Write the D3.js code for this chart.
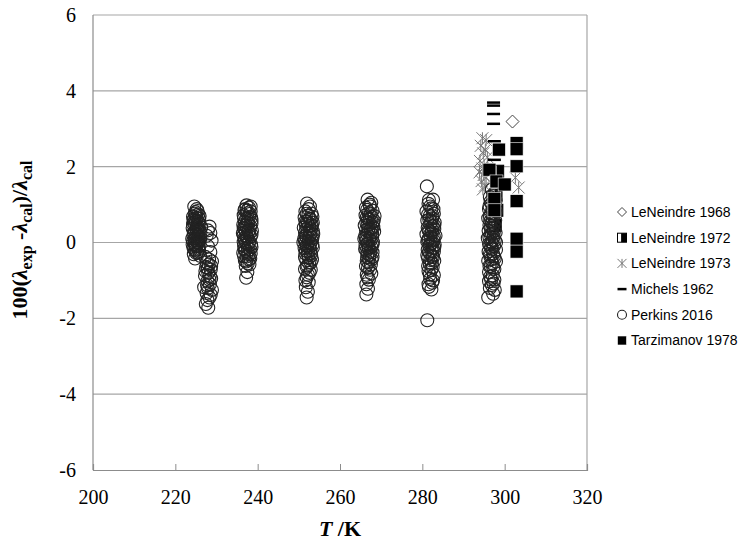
<!DOCTYPE html>
<html>
<head>
<meta charset="utf-8">
<script src="https://cdn.jsdelivr.net/npm/d3@7"></script>
<style>
body { margin: 0; background: #fff; }
.tick-label { font-family: "Liberation Serif", "Times New Roman", serif; font-size: 20px; fill: #000; }
.axis-title { font-family: "Liberation Serif", "Times New Roman", serif; font-weight: bold; fill: #000; }
.legend text { font-family: "Liberation Sans", Arial, sans-serif; font-size: 14px; fill: #000; }
</style>
</head>
<body>
<svg id="chart" width="749" height="547"></svg>
<script>
var xTicks = [200, 220, 240, 260, 280, 300, 320];
var yTicks = [-6, -4, -2, 0, 2, 4, 6];

// [T, deviation]
var leneindre1968 = [[301.9, 3.19]];

var leneindre1972 = [[298.3, 1.88], [297.9, 1.25], [298.1, 0.85], [297.7, 0.45]];

var leneindre1973 = [
    [294.6, 2.75], [295.5, 2.70], [294.2, 2.55], [295.3, 2.45], [294.8, 2.35], [295.8, 2.25],
    [294.0, 2.15], [295.0, 2.05], [294.6, 1.95], [295.6, 1.90], [293.9, 1.85], [294.9, 1.78],
    [295.5, 1.70], [294.4, 1.62], [295.2, 1.50], [294.7, 1.40], [302.6, 1.71], [303.4, 1.45]
];

var michels1962 = [
    [297.3, 3.69], [297.3, 3.61], [297.3, 3.39], [297.3, 3.13], [297.5, 2.67],
    [297.5, 2.18], [297.2, 1.31], [297.2, 1.05], [297.2, 0.79]
];

var perkins225 = [
    [224.6, 0.95], [225.2, 0.88], [224.9, 0.80], [225.6, 0.74], [224.3, 0.68], [225.8, 0.62],
    [225.0, 0.57], [224.5, 0.52], [225.9, 0.47], [225.3, 0.43], [224.2, 0.38], [225.7, 0.34],
    [224.8, 0.30], [226.1, 0.26], [225.1, 0.22], [224.4, 0.18], [225.6, 0.15], [224.9, 0.11],
    [226.0, 0.07], [224.3, 0.04], [225.4, 0.01], [224.7, -0.03], [225.9, -0.06], [225.0, -0.10],
    [224.4, -0.14], [225.7, -0.17], [224.9, -0.21], [225.3, -0.26], [224.5, -0.31], [226.0, -0.35],
    [224.8, -0.42], [225.2, 0.65], [224.6, 0.24], [225.5, -0.01], [226.3, 0.40], [224.1, 0.10],
    [225.4, 0.83], [224.7, 0.76], [225.9, 0.70], [224.4, 0.60], [225.5, 0.55], [224.8, 0.48],
    [225.2, 0.36], [225.9, 0.30], [224.5, 0.27], [225.4, 0.19], [226.0, 0.13], [224.7, 0.08],
    [225.2, 0.05], [224.2, -0.05], [225.6, -0.10], [224.6, -0.18], [225.1, -0.28], [225.8, -0.24],
    [224.3, 0.48], [225.0, 0.72], [224.6, 0.62], [225.7, 0.52], [225.3, 0.31], [224.9, -0.07], [225.5, 0.09]
];

var perkins228 = [
    [228.3, 0.42], [227.6, 0.18], [228.8, 0.05], [227.9, -0.10], [228.5, -0.25], [227.3, -0.38],
    [228.9, -0.50], [228.1, -0.58], [227.5, -0.65], [228.6, -0.72], [228.0, -0.80], [227.2, -0.88],
    [228.7, -0.95], [227.8, -1.02], [228.4, -1.10], [227.0, -1.18], [228.9, -1.25], [227.6, -1.33],
    [228.3, -1.45], [227.4, -1.62], [228.0, -1.72], [227.9, -0.68], [228.4, -0.88], [227.7, -1.12],
    [228.2, -0.45], [227.6, -0.52], [228.7, -0.62], [227.3, -0.75], [228.3, -0.98], [227.9, -1.20],
    [228.6, -1.38], [227.8, -1.52], [228.5, 0.25], [227.9, 0.32]
];

var perkins237 = [
    [237.3, 0.98], [237.9, 0.92], [236.8, 0.86], [238.3, 0.82], [237.5, 0.77], [236.6, 0.72],
    [238.0, 0.68], [237.2, 0.63], [238.5, 0.59], [236.9, 0.55], [237.7, 0.51], [236.5, 0.47],
    [238.2, 0.43], [237.4, 0.39], [236.8, 0.35], [238.6, 0.31], [237.1, 0.27], [237.9, 0.23],
    [236.6, 0.19], [238.3, 0.15], [237.5, 0.11], [236.9, 0.07], [238.0, 0.03], [237.2, -0.01],
    [238.4, -0.05], [236.7, -0.09], [237.6, -0.13], [238.1, -0.18], [237.0, -0.22], [236.5, -0.27],
    [237.8, -0.31], [237.3, -0.37], [238.2, -0.42], [236.9, -0.48], [237.6, -0.55], [237.1, -0.62],
    [237.5, -0.78], [237.2, -0.93], [238.4, 0.66], [236.4, 0.25],
    [237.0, 0.88], [238.1, 0.75], [236.7, 0.64], [237.6, 0.58], [238.5, 0.50], [237.0, 0.44],
    [236.6, 0.38], [237.9, 0.33], [238.5, 0.21], [237.3, 0.17], [236.6, 0.01], [237.8, -0.02],
    [238.5, -0.12], [236.8, -0.17], [237.5, -0.25], [238.3, -0.29], [236.7, -0.36], [237.9, -0.44],
    [237.2, -0.50], [238.0, -0.58], [236.8, 0.12], [237.4, 0.84], [238.3, 0.95], [237.7, 0.28], [237.2, 0.47]
];

var perkins252 = [
    [252.0, 1.03], [252.7, 0.95], [251.6, 0.82], [253.1, 0.76], [252.3, 0.71], [251.4, 0.66],
    [252.9, 0.61], [252.0, 0.56], [253.4, 0.52], [251.7, 0.47], [252.5, 0.43], [251.2, 0.39],
    [253.0, 0.35], [252.2, 0.30], [251.5, 0.26], [253.5, 0.22], [252.7, 0.18], [251.9, 0.14],
    [251.3, 0.10], [253.1, 0.06], [252.4, 0.02], [251.7, -0.02], [253.3, -0.06], [252.0, -0.10],
    [251.4, -0.15], [252.8, -0.19], [252.2, -0.24], [251.6, -0.29], [253.0, -0.34], [252.4, -0.40],
    [251.8, -0.46], [252.9, -0.53], [252.1, -0.61], [251.5, -0.70], [252.6, -0.80], [251.9, -0.92],
    [252.4, -1.05], [251.7, -1.18], [252.2, -1.30], [251.9, -1.45], [253.2, 0.46], [251.1, 0.00],
    [252.4, 0.88], [251.9, 0.76], [253.3, 0.68], [252.6, 0.63], [251.6, 0.56], [252.2, 0.50],
    [253.0, 0.44], [251.8, 0.35], [252.6, 0.31], [253.4, 0.30], [251.6, 0.18], [252.4, 0.12],
    [253.3, 0.12], [251.5, 0.04], [252.8, -0.02], [251.9, -0.07], [253.4, -0.14], [252.5, -0.12],
    [251.7, -0.22], [252.9, -0.28], [252.3, -0.33], [251.5, -0.39], [253.2, -0.45], [252.5, -0.56],
    [251.9, -0.64], [252.9, -0.72], [252.2, -0.85], [251.6, -1.00], [252.8, 0.23]
];

var perkins267 = [
    [266.7, 1.13], [267.6, 1.05], [266.3, 0.92], [267.9, 0.84], [267.0, 0.78], [266.2, 0.72],
    [267.7, 0.67], [266.8, 0.62], [268.2, 0.58], [266.4, 0.53], [267.3, 0.49], [266.0, 0.45],
    [267.9, 0.41], [266.9, 0.37], [266.3, 0.33], [268.3, 0.29], [267.4, 0.25], [266.6, 0.21],
    [266.1, 0.17], [267.8, 0.13], [267.1, 0.09], [266.4, 0.05], [268.0, 0.01], [266.8, -0.03],
    [266.2, -0.07], [267.6, -0.12], [267.0, -0.16], [266.4, -0.21], [267.9, -0.26], [267.2, -0.32],
    [266.6, -0.38], [267.7, -0.45], [266.9, -0.52], [266.3, -0.62], [267.3, -0.72], [266.5, -0.85],
    [267.0, -0.98], [266.4, -1.10], [266.8, -1.22], [266.4, -1.37], [268.4, 0.70], [265.9, 0.10],
    [267.3, 0.95], [266.6, 0.86], [267.5, 0.76], [266.5, 0.66], [267.2, 0.60], [268.0, 0.53],
    [266.7, 0.46], [267.6, 0.35], [266.9, 0.30], [267.8, 0.22], [266.3, 0.12], [267.4, 0.05],
    [266.6, -0.03], [267.9, -0.05], [266.9, -0.12], [266.1, -0.17], [267.4, -0.24], [266.7, -0.29],
    [267.9, -0.38], [267.1, -0.42], [266.5, -0.48], [267.5, -0.58], [266.8, -0.67], [267.6, -0.82],
    [266.7, -0.92], [267.2, 1.00], [268.1, 0.40]
];

var perkins282 = [
    [281.1, 1.48], [282.6, 1.13], [281.5, 1.02], [282.2, 0.90], [281.0, 0.82], [282.8, 0.76],
    [281.8, 0.70], [282.4, 0.64], [281.2, 0.58], [283.0, 0.53], [281.9, 0.48], [282.5, 0.43],
    [281.3, 0.39], [282.9, 0.35], [281.7, 0.30], [282.3, 0.26], [281.0, 0.22], [283.2, 0.18],
    [282.0, 0.14], [281.5, 0.10], [282.7, 0.06], [281.2, 0.02], [282.2, -0.02], [283.0, -0.06],
    [281.7, -0.10], [282.5, -0.15], [281.3, -0.19], [282.8, -0.24], [281.9, -0.29], [282.4, -0.35],
    [281.4, -0.41], [282.9, -0.48], [281.8, -0.56], [282.5, -0.65], [281.5, -0.75], [282.8, -0.86],
    [281.9, -0.96], [282.4, -1.06], [281.6, -1.17], [282.2, -1.24], [281.2, -2.05],
    [281.9, 0.95], [282.7, 0.88], [281.4, 0.74], [282.5, 0.70], [281.7, 0.60], [282.2, 0.55],
    [282.9, 0.45], [281.5, 0.33], [282.4, 0.33], [281.9, 0.22], [282.8, 0.15], [281.4, 0.05],
    [282.5, 0.00], [281.9, -0.05], [282.9, -0.13], [281.6, -0.25], [282.3, -0.22], [281.2, -0.33],
    [282.6, -0.38], [281.9, -0.46], [282.3, -0.55], [281.4, -0.62], [282.2, -0.72], [281.8, -0.85],
    [282.6, -1.00], [281.6, 1.12], [281.5, -1.10]
];

var perkins297 = [
    [296.9, 1.40], [297.5, 1.30], [296.4, 1.20], [297.8, 1.10], [296.8, 1.02], [297.3, 0.95],
    [296.2, 0.88], [297.9, 0.82], [296.7, 0.76], [297.4, 0.70], [296.0, 0.64], [297.7, 0.58],
    [296.9, 0.52], [296.3, 0.46], [297.6, 0.41], [297.0, 0.36], [296.1, 0.31], [297.8, 0.26],
    [296.6, 0.21], [297.3, 0.16], [295.9, 0.11], [297.6, 0.06], [296.8, 0.01], [296.2, -0.04],
    [297.4, -0.09], [296.7, -0.14], [297.9, -0.19], [296.1, -0.24], [297.2, -0.30], [296.5, -0.36],
    [297.6, -0.42], [296.0, -0.48], [297.0, -0.55], [296.6, -0.62], [297.5, -0.70], [296.2, -0.78],
    [297.1, -0.87], [296.7, -0.97], [297.3, -1.08], [296.4, -1.20], [297.2, -1.35], [296.0, -1.45],
    [297.2, 1.22], [296.6, 1.08], [297.5, 1.02], [296.3, 0.96], [297.0, 0.85], [297.6, 0.78],
    [296.4, 0.70], [297.1, 0.63], [296.5, 0.56], [297.3, 0.48], [296.6, 0.38], [297.4, 0.30],
    [296.9, 0.24], [296.3, 0.14], [297.1, 0.08], [297.9, 0.00], [296.5, -0.06], [297.0, -0.17],
    [296.4, -0.30], [297.4, -0.36], [296.8, -0.44], [297.9, -0.50], [296.3, -0.62], [297.2, -0.66],
    [296.5, -0.90], [297.5, -0.98], [296.9, -1.12], [296.2, -1.02], [297.6, -1.25]
];

var tarzimanov1978 = [
    [296.3, 1.92], [298.6, 2.45], [298.0, 1.61], [300.0, 1.53], [297.5, 1.15], [297.5, 0.85],
    [302.9, 2.62], [302.9, 2.46], [302.9, 2.01], [302.9, 1.09], [302.9, 0.10], [302.9, -0.24],
    [302.9, -1.29]
];

var seriesNames = ["LeNeindre 1968", "LeNeindre 1972", "LeNeindre 1973", "Michels 1962", "Perkins 2016", "Tarzimanov 1978"];
var seriesMarkers = ["diamond", "halfsquare", "star", "dash", "circle", "square"];
var markerSize = { circle: 6.5, square: 6.5, diamond: 6.5, halfsquare: 6, star: 6, dash: 6.5 };

var perkins2016 = perkins225.concat(perkins228, perkins237, perkins252, perkins267, perkins282, perkins297);
var seriesData = [leneindre1968, leneindre1972, leneindre1973, michels1962, perkins2016, tarzimanov1978];

drawChart(d3.select("#chart"));

function drawChart(svg) {
    var plotLeft = 93, plotRight = 587, plotTop = 15, plotBottom = 470;

    var xs = d3.scaleLinear().domain([200, 320]).range([plotLeft, plotRight]);
    var ys = d3.scaleLinear().domain([-6, 6]).range([plotBottom, plotTop]);

    // grid lines
    svg.append("g")
        .selectAll("line")
        .data(yTicks.filter(d => d > -6))
        .enter().append("line")
        .attr("x1", plotLeft).attr("x2", plotRight)
        .attr("y1", d => ys(d)).attr("y2", d => ys(d))
        .attr("stroke", "#a6a6a6")
        .attr("stroke-width", 1.2);

    // frame
    svg.append("line").attr("x1", plotLeft).attr("x2", plotLeft).attr("y1", plotTop).attr("y2", plotBottom)
        .attr("stroke", "#8c8c8c").attr("stroke-width", 1.2);
    svg.append("line").attr("x1", plotRight).attr("x2", plotRight).attr("y1", plotTop).attr("y2", plotBottom)
        .attr("stroke", "#a6a6a6").attr("stroke-width", 1.2);

    var x_axis = d3.axisBottom(xs).tickValues(xTicks).tickSize(-6).tickFormat(d => String(d)).tickPadding(20);
    var gx = svg.append("g")
        .attr("transform", `translate(0,${plotBottom})`)
        .call(x_axis);
    gx.select(".domain").attr("stroke", "#8c8c8c").attr("stroke-width", 1.2);
    gx.selectAll(".tick line").attr("stroke", "#8c8c8c");
    gx.selectAll(".tick text").attr("class", "tick-label");

    var y_axis = d3.axisLeft(ys).tickValues(yTicks).tickSize(0).tickFormat(d => String(d)).tickPadding(17);
    var gy = svg.append("g")
        .attr("transform", `translate(${plotLeft},0)`)
        .call(y_axis);
    gy.select(".domain").remove();
    gy.selectAll(".tick text").attr("class", "tick-label");

    // axis titles
    var yt = svg.append("text")
        .attr("class", "axis-title")
        .attr("transform", "translate(27,240) rotate(-90)")
        .attr("text-anchor", "middle")
        .style("font-size", "22px");
    yt.append("tspan").text("100(");
    yt.append("tspan").style("font-style", "italic").text("λ");
    yt.append("tspan").attr("dy", 5).style("font-size", "16px").text("exp");
    yt.append("tspan").attr("dy", -5).text(" -");
    yt.append("tspan").style("font-style", "italic").text("λ");
    yt.append("tspan").attr("dy", 5).style("font-size", "16px").text("cal");
    yt.append("tspan").attr("dy", -5).text(")/");
    yt.append("tspan").style("font-style", "italic").text("λ");
    yt.append("tspan").attr("dy", 5).style("font-size", "16px").text("cal");

    var xt = svg.append("text")
        .attr("class", "axis-title")
        .attr("x", 340).attr("y", 536)
        .attr("text-anchor", "middle")
        .style("font-size", "22px");
    xt.append("tspan").style("font-style", "italic").text("T");
    xt.append("tspan").text(" /K");

    // points
    var plot = svg.append("g").attr("class", "points");
    seriesData.forEach(function (data, i) {
        var g = plot.append("g");
        data.forEach(function (d) {
            drawMarker(g, seriesMarkers[i], xs(d[0]), ys(d[1]), markerSize[seriesMarkers[i]]);
        });
    });

    // legend
    var legend = svg.append("g").attr("class", "legend");
    seriesNames.forEach(function (name, i) {
        var ly = 212 + i * 25.7;
        drawMarker(legend, seriesMarkers[i], 622, ly, 4.5);
        legend.append("text")
            .attr("x", 631).attr("y", ly)
            .attr("dy", "0.35em")
            .text(name);
    });
}

// marker shapes, s = half size
function drawMarker(g, type, cx, cy, s) {
    if (type == "circle") {
        g.append("circle").attr("cx", cx).attr("cy", cy).attr("r", s)
            .attr("fill", "none").attr("stroke", "#222").attr("stroke-width", 1.1);
    } else if (type == "square") {
        g.append("rect").attr("x", cx - s).attr("y", cy - s).attr("width", 2 * s).attr("height", 2 * s)
            .attr("fill", "#000").attr("stroke", "#fff").attr("stroke-width", 0.6);
    } else if (type == "diamond") {
        g.append("path")
            .attr("d", `M${cx},${cy - s}L${cx + s},${cy}L${cx},${cy + s}L${cx - s},${cy}Z`)
            .attr("fill", "#fff").attr("stroke", "#444").attr("stroke-width", 1);
    } else if (type == "halfsquare") {
        g.append("rect").attr("x", cx - s).attr("y", cy - s).attr("width", 2 * s).attr("height", 2 * s)
            .attr("fill", "#fff").attr("stroke", "#000").attr("stroke-width", 1);
        g.append("rect").attr("x", cx - s * 0.2).attr("y", cy - s).attr("width", s * 1.2).attr("height", 2 * s)
            .attr("fill", "#000");
    } else if (type == "star") {
        g.append("path")
            .attr("d", `M${cx - s},${cy - s}L${cx + s},${cy + s}M${cx + s},${cy - s}L${cx - s},${cy + s}M${cx},${cy - s}L${cx},${cy + s}`)
            .attr("stroke", "#777").attr("stroke-width", 1).attr("fill", "none");
    } else if (type == "dash") {
        g.append("line").attr("x1", cx - s).attr("x2", cx + s).attr("y1", cy).attr("y2", cy)
            .attr("stroke", "#000").attr("stroke-width", 2.5);
    }
}
</script>
</body>
</html>
